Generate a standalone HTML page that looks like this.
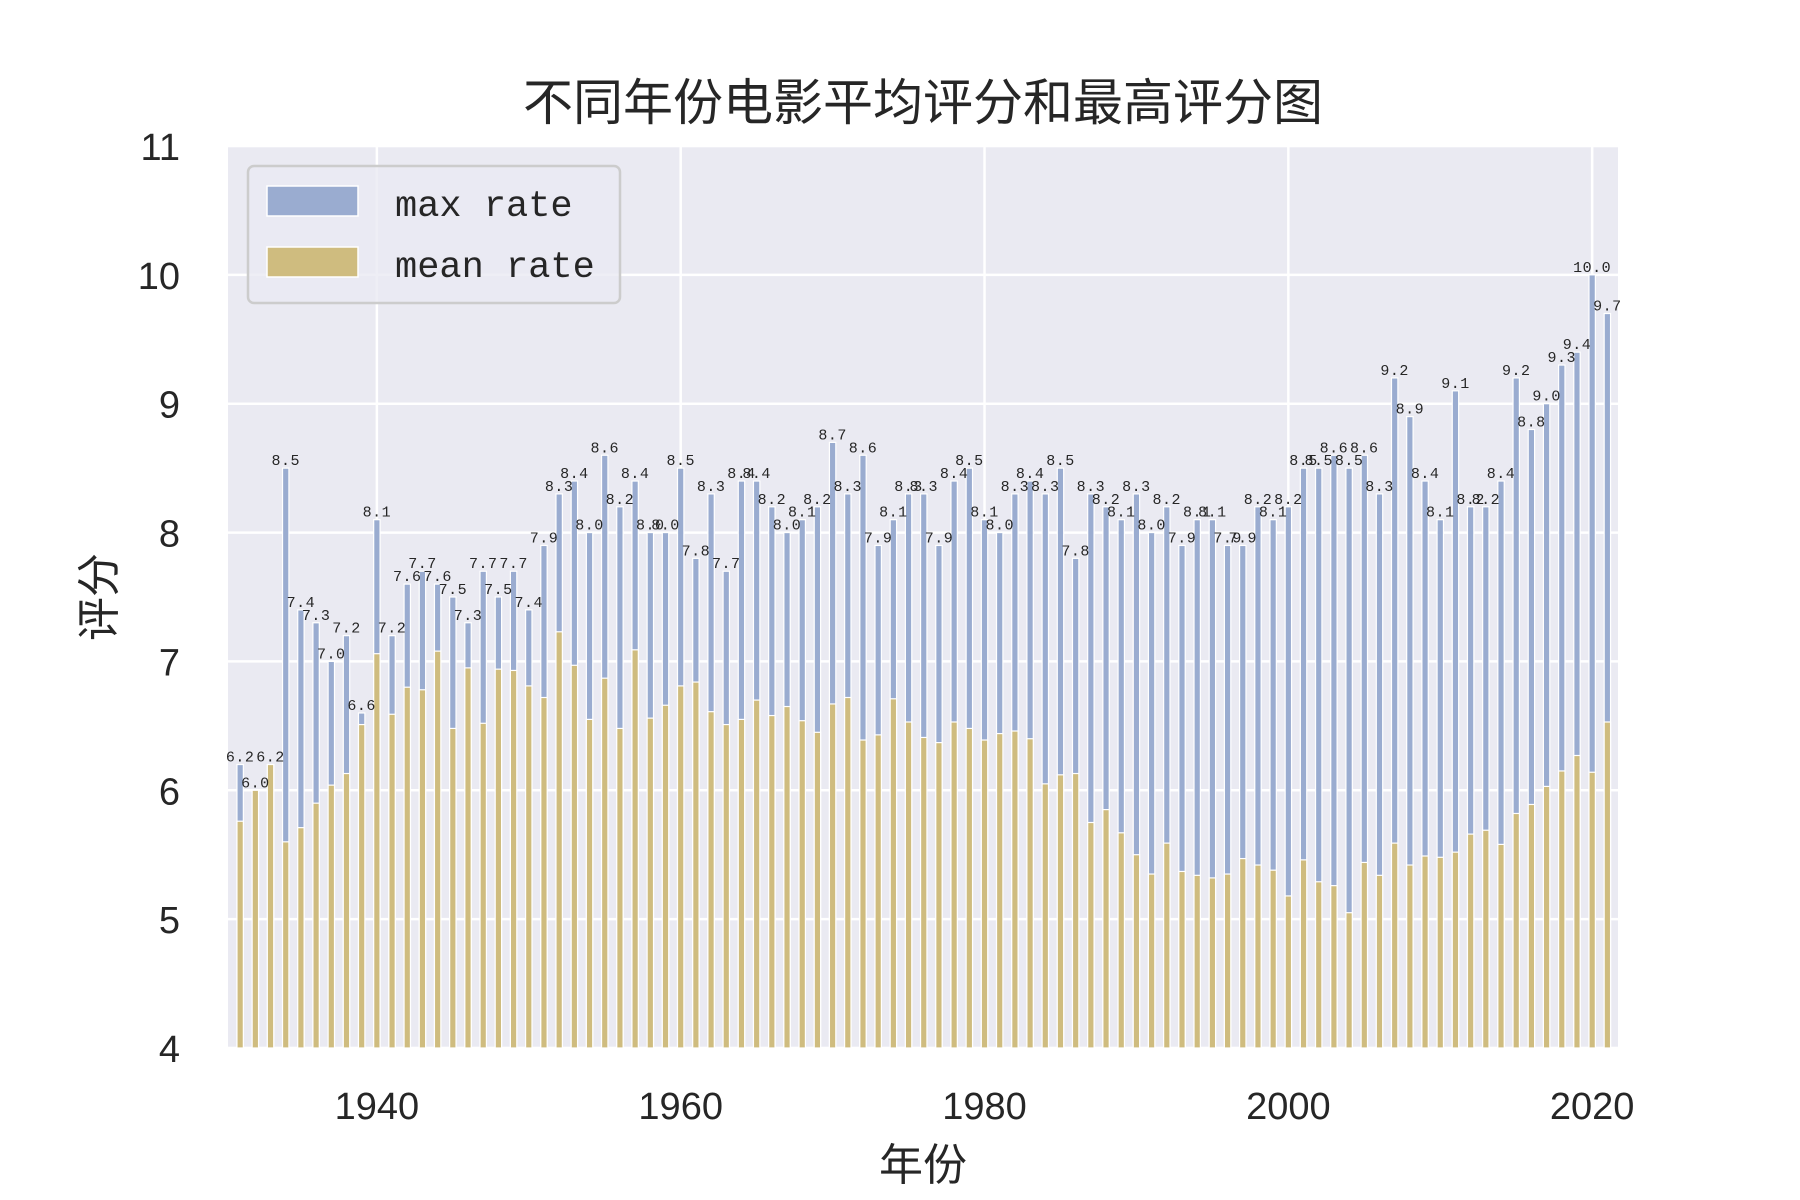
<!DOCTYPE html>
<html><head><meta charset="utf-8">
<style>
html,body{margin:0;padding:0;background:#fff;}
svg{display:block;}
text{font-family:"Liberation Sans","Noto Sans CJK SC",sans-serif;fill:#262626;}
</style></head>
<body>
<svg id="chart" width="1800" height="1200" viewBox="0 0 1800 1200" xmlns="http://www.w3.org/2000/svg">
<rect x="228" y="146" width="1390" height="902" fill="#eaeaf2"/>
<g id="grid"></g>
<g id="bars"></g>
<g id="vlabels"></g>
<g id="yticks"></g>
<g id="xticks"></g>
<text x="923" y="120" font-size="50" text-anchor="middle" style="font-family:'Noto Sans CJK SC',sans-serif">不同年份电影平均评分和最高评分图</text>
<text x="0" y="0" font-size="44" text-anchor="middle" transform="translate(114,597) rotate(-90)" style="font-family:'Noto Sans CJK SC',sans-serif">评分</text>
<text x="923" y="1180" font-size="44" text-anchor="middle" style="font-family:'Noto Sans CJK SC',sans-serif">年份</text>
<g>
<rect x="248" y="166" width="372" height="137" rx="6" fill="#eaeaf2" fill-opacity="0.8" stroke="#cccccc" stroke-width="2.5"/>
<rect x="267" y="186" width="91" height="30" fill="#9aacd0" stroke="#fff" stroke-width="1.5"/>
<text x="395" y="216" font-size="37" style="font-family:'Liberation Mono',monospace">max rate</text>
<rect x="267" y="247" width="91" height="30" fill="#cfbc7f" stroke="#fff" stroke-width="1.5"/>
<text x="395" y="277" font-size="37" style="font-family:'Liberation Mono',monospace">mean rate</text>
</g>
</svg>
<script>
const years = [];
for (let y = 1931; y <= 2021; y++) years.push(y);
const maxRate = [6.2,6.0,6.2,8.5,7.4,7.3,7.0,7.2,6.6,8.1,7.2,7.6,7.7,7.6,7.5,7.3,7.7,7.5,7.7,7.4,
7.9,8.3,8.4,8.0,8.6,8.2,8.4,8.0,8.0,8.5,7.8,8.3,7.7,8.4,8.4,8.2,8.0,8.1,8.2,8.7,
8.3,8.6,7.9,8.1,8.3,8.3,7.9,8.4,8.5,8.1,8.0,8.3,8.4,8.3,8.5,7.8,8.3,8.2,8.1,8.3,
8.0,8.2,7.9,8.1,8.1,7.9,7.9,8.2,8.1,8.2,8.5,8.5,8.6,8.5,8.6,8.3,9.2,8.9,8.4,8.1,
9.1,8.2,8.2,8.4,9.2,8.8,9.0,9.3,9.4,10.0,9.7];
const meanRate = [5.76,6.0,6.2,5.60,5.71,5.90,6.04,6.13,6.51,7.06,6.59,6.80,6.78,7.08,6.48,6.95,6.52,6.94,6.93,6.81,
6.72,7.23,6.97,6.55,6.87,6.48,7.09,6.56,6.66,6.81,6.84,6.61,6.51,6.55,6.70,6.58,6.65,6.54,6.45,6.67,
6.72,6.39,6.43,6.71,6.53,6.41,6.37,6.53,6.48,6.39,6.44,6.46,6.40,6.05,6.12,6.13,5.75,5.85,5.67,5.50,
5.35,5.59,5.37,5.34,5.32,5.35,5.47,5.42,5.38,5.18,5.46,5.29,5.26,5.05,5.44,5.34,5.59,5.42,5.49,5.48,
5.52,5.66,5.69,5.58,5.82,5.89,6.03,6.15,6.27,6.14,6.53];
const yTicks = [4,5,6,7,8,9,10,11];
const xTicks = [1940,1960,1980,2000,2020];

const NS = "http://www.w3.org/2000/svg";
const X0 = 228, X1 = 1618, Y0 = 1048, Y1 = 146;
const xMin = 1930.2, xMax = 2021.7, yMin = 4, yMax = 11;
function xs(v){ return X0 + (v - xMin) / (xMax - xMin) * (X1 - X0); }
function ys(v){ return Y0 - (v - yMin) / (yMax - yMin) * (Y0 - Y1); }
function mk(tag, attrs, parent){ const e = document.createElementNS(NS, tag); for (const k in attrs) e.setAttribute(k, attrs[k]); parent.appendChild(e); return e; }

const grid = document.getElementById('grid');
yTicks.forEach(t => {
  const l = mk('line', {x1:X0, x2:X1, y1:ys(t), y2:ys(t), stroke:'#fff', 'stroke-width':2.5}, grid);
  
  
  const tx = mk('text', {x:180, y:ys(t)+14, 'font-size':38, 'text-anchor':'end'}, document.getElementById('yticks'));
  
  
  tx.textContent = t;
});
xTicks.forEach(t => {
  const l = mk('line', {x1:xs(t), x2:xs(t), y1:Y1, y2:Y0, stroke:'#fff', 'stroke-width':2.5}, grid);
  
  
  const tx = mk('text', {x:xs(t), y:1119, 'font-size':38, 'text-anchor':'middle'}, document.getElementById('xticks'));
  
  
  tx.textContent = t;
});

const bars = document.getElementById('bars');
const vl = document.getElementById('vlabels');
const bw = (X1 - X0) / (xMax - xMin) * 0.42;
years.forEach((yr, i) => {
  const cx = xs(yr);
  const b = mk('rect', {x:cx-bw/2, y:ys(maxRate[i]), width:bw, height:Y0-ys(maxRate[i]), fill:'#9aacd0', stroke:'#fff', 'stroke-width':1.2}, bars);
  
  
  const m = mk('rect', {x:cx-bw/2, y:ys(meanRate[i]), width:bw, height:Y0-ys(meanRate[i]), fill:'#cfbc7f', stroke:'#fff', 'stroke-width':1.2}, bars);
  
  
  const t = mk('text', {x:cx, y:ys(maxRate[i])-3, 'font-size':15, 'text-anchor':'middle', 'letter-spacing':'0.5'}, vl);
  
  
  t.setAttribute('style', "font-family:'Liberation Mono',monospace");
  t.textContent = maxRate[i].toFixed(1);
});
</script>
</body></html>
